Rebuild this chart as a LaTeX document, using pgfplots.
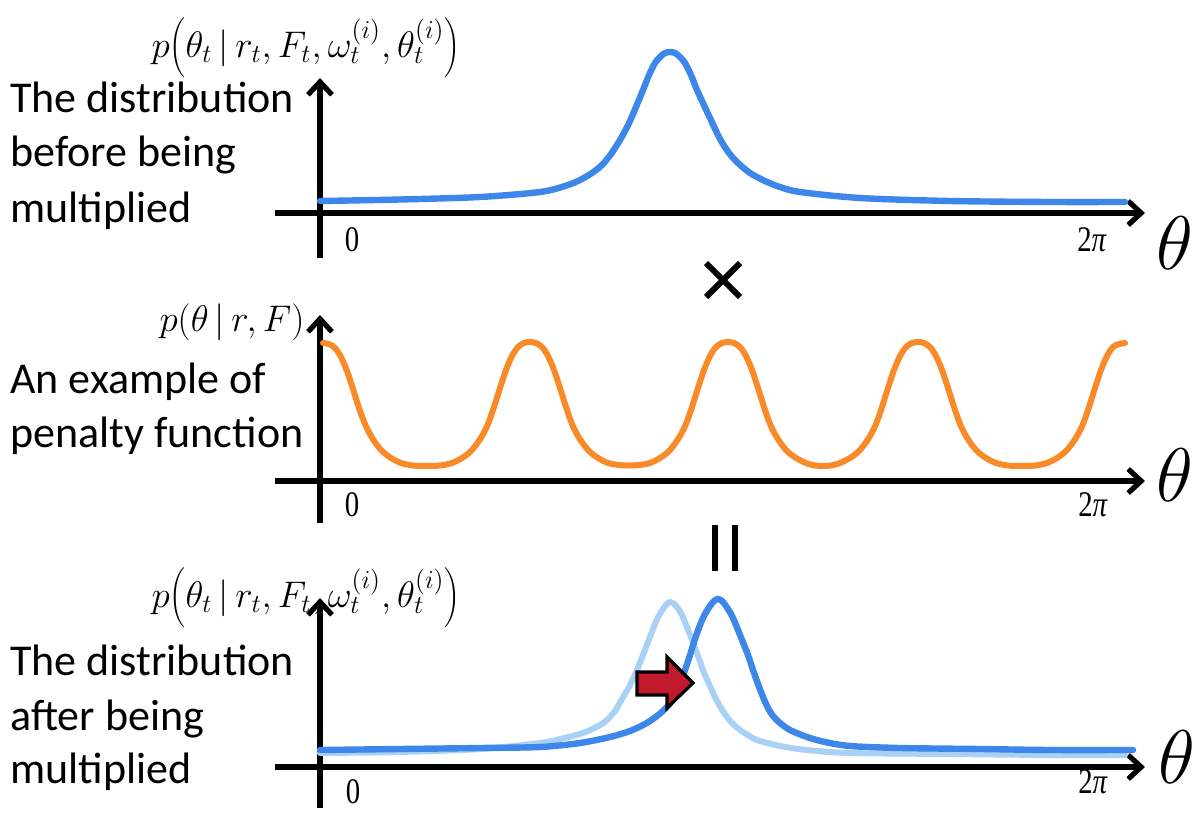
\RequirePackage{fix-cm}
\documentclass[border=0pt]{standalone}
\usepackage{pgfplots}
\usepackage{pgfplotstable}
\pgfplotsset{compat=1.18}
\usepackage{fontspec}
\setmainfont{Carlito}
\newfontfamily\tnr{Liberation Serif}
\usetikzlibrary{arrows.meta}

\definecolor{distblue}{HTML}{3D86EA}
\definecolor{lightblue}{HTML}{A9D1F5}
\definecolor{penorange}{HTML}{F98A28}
\definecolor{shiftred}{HTML}{C01A2C}

\newcommand{\bigpar}[1]{\!\left(\rule[-5pt]{0pt}{18pt}#1\right)}

\tikzset{
  axarrow/.style={line width=2.6pt, black,
    -{Straight Barb[length=6.5pt, width=12pt, line width=2.6pt]}},
  lbl/.style={font=\fontsize{22}{27}\selectfont, anchor=base west, inner sep=0pt},
  frm/.style={font=\fontsize{18.5}{22}\selectfont, inner sep=0pt},
  tk/.style={font=\fontsize{18}{20}\selectfont\tnr, inner sep=0pt, xscale=0.8},
  th/.style={font=\fontsize{38}{40}\selectfont, inner sep=0pt},
}

% before multiplication (height above the theta axis)
\pgfplotstableread{
x h
320 12
400 13.5
480 16
540 21
565 27
580 33
592 40
602 48
611 59
620 73
630 92
643 123
649 138
655 150
660 156
665 160
670 161
675 160
680 156
685 150
691 138
697 123
710 95
720 74
729 60
738 50
750 40
765 32
780 26
800 21
860 15
950 12
1050 11
1125 11
}\tabBefore

% penalty function
\pgfplotstableread{
x h
323 138
329 137
335 133
341 124
347 110
353 92
359 73
365 57
371 45
377 36
383 29
391 23
401 18
413 15.5
426 15
440 15.5
452 18
462 23
470 29
476 36
482 45
488 57
494 74
500 93
506 111
512 125
518 134
524 138
530 139
536 138
542 134
548 125
554 111
560 93
566 74
572 57
578 45
584 36
590 29
598 23
608 18
619 16
629 15.5
639 16
650 18
660 23
668 29
674 36
680 45
686 57
692 74
698 93
704 111
710 125
716 134
722 138
728 139
734 138
740 134
746 125
752 111
758 93
764 74
770 57
776 45
782 36
788 29
796 23
806 18
815 15.5
823 15
831 15.5
840 18
850 23
858 29
864 36
870 45
876 57
882 74
888 93
894 111
900 125
906 134
912 138
918 139
924 138
930 134
936 125
942 111
948 93
954 74
960 57
966 45
972 36
978 29
986 23
996 18
1008 15.5
1021 15
1035 15.5
1047 18
1057 23
1065 29
1071 36
1077 45
1083 57
1089 74
1095 93
1101 111
1107 125
1113 134
1119 137
1125 138
}\tabPenalty

% after multiplication: original (light) and shifted (dark)
\pgfplotstableread{
x h
320 14
400 15
480 18
540 24
560 28
583 34
600 42
607 47
615 56
622 68
630 82
637 97
643 112
648 125
653 138
658 150
663 158
667 163
670 165
673 164
677 160
682 152
687 140
692 127
698 111
703 97
709 83
715 70
721 59
727 50
733 43
740 37
748 32
757 27
780 21
807 17
850 14
950 13
1050 12
1125 12
}\tabAfterLight

\pgfplotstableread{
x h
320 17
400 18
480 19
540 20
580 24
610 30
630 36
645 43
657 51
667 60
673 68
679 82
685 97
690 112
695 128
700 142
705 153
710 161
714 166
718 168
722 166
726 161
731 153
736 142
742 127
748 112
753 97
758 83
763 70
768 59
773 51
780 44
790 37
807 30
825 25
850 21
900 19
980 18
1050 17
1133 17
}\tabAfterDark

\begin{document}
\begin{tikzpicture}
\useasboundingbox (0,0) rectangle (600pt,408pt);
\begin{axis}[
    at={(0,0)}, anchor=south west,
    x=0.5pt, y=0.5pt,
    xmin=0, xmax=1200, ymin=0, ymax=816,
    hide axis, clip=false,
  ]
  % ---- panel 1: before ----
  \draw[axarrow] (275,603) -- (1145,603);
  \draw[axarrow] (320,558) -- (320,738);
  \addplot[distblue, line width=3.2pt, smooth, line cap=round]
    table[x=x, y expr=\thisrow{h}+603] {\tabBefore};
  \node[frm] at (306,768) {$p\bigpar{\theta_t\,|\,r_t, F_t, \omega_t^{(i)}, \theta_t^{(i)}}$};
  \node[lbl] at (10,703) {The distribution};
  \node[lbl] at (10,649) {before being};
  \node[lbl] at (10,594) {multiplied};
  \node[tk] at (352,576) {0};
  \node[tk] at (1092,576) {2\textit{π}};
  \node[th] at (1175,573) {$\theta$};

  % times sign
  \draw[line width=3pt] (706,553) -- (740,519);
  \draw[line width=3pt] (706,519) -- (740,553);

  % ---- panel 2: penalty ----
  \draw[axarrow] (275,335) -- (1145,335);
  \draw[axarrow] (320,293) -- (320,501);
  \addplot[penorange, line width=3pt, smooth, line cap=round]
    table[x=x, y expr=\thisrow{h}+335] {\tabPenalty};
  \node[frm] at (232,493) {$p\bigpar{\theta\,|\,r, F}$};
  \node[lbl] at (10,423) {An example of};
  \node[lbl] at (10,369) {penalty function};
  \node[tk] at (352,311) {0};
  \node[tk] at (1093,311) {2\textit{π}};
  \node[th] at (1175,341) {$\theta$};

  % equals sign (vertical)
  \draw[line width=3pt] (715,291) -- (715,245);
  \draw[line width=3pt] (735,291) -- (735,245);

  % ---- panel 3: after ----
  \draw[axarrow] (275,49) -- (1145,49);
  \draw[axarrow] (320,8) -- (320,218);
  \addplot[lightblue, line width=3pt, smooth, line cap=round]
    table[x=x, y expr=\thisrow{h}+49] {\tabAfterLight};
  \addplot[distblue, line width=3.2pt, smooth, line cap=round]
    table[x=x, y expr=\thisrow{h}+49] {\tabAfterDark};
  \draw[fill=shiftred, line width=1.6pt, line join=miter]
    (637,144) -- (667,144) -- (667,159) -- (693,133) -- (667,108)
    -- (667,121) -- (637,121) -- cycle;
  \node[frm] at (306,218) {$p\bigpar{\theta_t\,|\,r_t, F_t, \omega_t^{(i)}, \theta_t^{(i)}}$};
  \node[lbl] at (10,141) {The distribution};
  \node[lbl] at (10,86) {after being};
  \node[lbl] at (10,33) {multiplied};
  \node[tk] at (353,24) {0};
  \node[tk] at (1093,34) {2\textit{π}};
  \node[th] at (1177,59) {$\theta$};
\end{axis}
\end{tikzpicture}
\end{document}
